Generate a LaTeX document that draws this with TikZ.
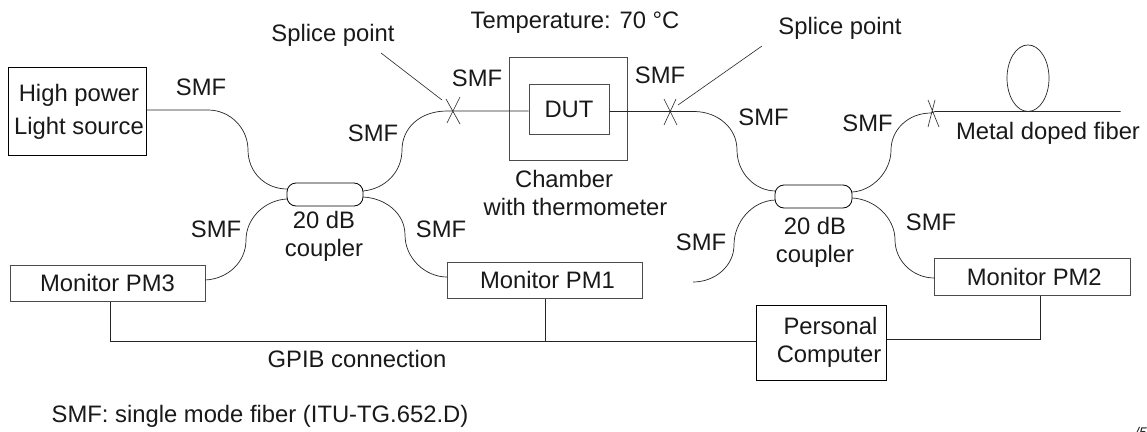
\documentclass[tikz,border=0pt]{standalone}
\usepackage{fontspec}
\setmainfont{Liberation Sans}
\usetikzlibrary{calc,shapes.geometric}
\tikzset{
  x=1pt,y=-1pt,
  txt/.style={inner sep=0pt,font=\fontsize{23.8}{28}\selectfont,align=center,text=black!90,text height=17pt,text depth=0pt},
  boxa/.style={draw=black!70,line width=1pt,inner sep=0pt,font=\fontsize{23.8}{28}\selectfont,align=center,text=black!90},
  boxb/.style={draw=black,line width=.8pt,inner sep=0pt,font=\fontsize{23.8}{28}\selectfont,align=center,text=black!90},
  fiber/.style={draw=black!85,line width=.7pt},
  bus/.style={draw=black!85,line width=.9pt},
  thin mark/.style={draw=black!85,line width=.6pt},
}
\begin{document}
\begin{tikzpicture}
\clip (0,0) rectangle (1147,431);
\fill[white] (0,0) rectangle (1147,431);
% boxes
\node[boxb,minimum width=137.5pt,minimum height=88pt] (src) at (77.5,111.5) {\hspace*{3pt}High power\\[5pt]\hspace*{3pt}Light source};
\node[boxa,minimum width=195pt,minimum height=36pt] (pm3) at (107.5,283) {Monitor PM3};
\node[boxa,minimum width=195pt,minimum height=36pt] (pm1) at (544.5,280) {\hspace*{6pt}Monitor PM1};
\node[boxa,minimum width=195.5pt,minimum height=37pt] (pm2) at (1032.25,276.5) {\hspace*{4pt}Monitor PM2};
\node[boxb,minimum width=130pt,minimum height=75pt] (pc) at (821.5,342.5) {\hspace*{18pt}Personal\\\hspace*{15pt}Computer};
\node[boxa,minimum width=118pt,minimum height=103pt] (chamber) at (568,108.5) {};
\node[boxa,minimum width=80pt,minimum height=50pt] (dut) at (569,109) {DUT};
\node[boxb,rounded corners=9pt,minimum width=76pt,minimum height=23pt] (c1) at (325,194.5) {};
\node[boxb,rounded corners=9pt,minimum width=77pt,minimum height=23pt] (c2) at (813.5,196.5) {};
\node[draw=black!85,line width=.7pt,ellipse,minimum width=42pt,minimum height=66.5pt,inner sep=0pt] (loop) at (1028,78.2) {};
% free ends and joints
\coordinate (s1) at (453,111);
\coordinate (s2) at (670,111.5);
\coordinate (s3) at (935,111.5);
\coordinate (fend) at (1120.5,111.5);
\coordinate (tail) at (693,282);
\coordinate (l1) at (381,53);
\coordinate (l1e) at (442,100);
\coordinate (l2) at (762,46);
\coordinate (l2e) at (678,105);
% fibres
\draw[fiber] (src.east |- 0,110) -- (208,110) .. controls (230,110) and (248,128) .. (248,150) .. controls (248,172) and (265,189) .. (287,189);
\draw[fiber] (363,191) .. controls (385,189) and (402,172) .. (402,150) .. controls (402,128) and (420,111) .. (447,111) -- (dut.west |- s1);
\draw[fiber] (287,199) .. controls (265,200) and (246,218) .. (246,240) .. controls (246,262) and (228,279) .. (205,280);
\draw[fiber] (363,197) .. controls (385,198) and (405,213) .. (405,235) .. controls (405,258) and (425,277) .. (447,277);
\draw[fiber] (dut.east |- s2) -- (695,111.5) .. controls (718,112) and (737,128) .. (737,150) .. controls (737,172) and (754,191) .. (776,191);
\draw[fiber] (852,192) .. controls (872,191) and (891,172) .. (891,150) .. controls (891,130) and (908,113) .. (931,113) -- (s3) -- (fend);
\draw[fiber] (775,200) .. controls (752,201) and (734,222) .. (734,245) .. controls (734,266) and (715,282) .. (tail);
\draw[fiber] (852,198) .. controls (875,199) and (895,218) .. (895,240) .. controls (895,260) and (912,278) .. (934.5,278);
% splice marks
\draw[thin mark] (447,123) -- (460,97) (446,99) -- (460,124);
\draw[thin mark] (664,125) -- (676,99) (664,99) -- (677,125);
\draw[thin mark] (928,127) -- (935,100) (928,100) -- (939,127);
\draw[thin mark] (l1) -- (l1e);
\draw[thin mark] (l2) -- (l2e);
% GPIB
\draw[bus] (pm3.south -| 110,0) -- (110,341) -- (pc.west |- 0,341);
\draw[bus] (545,341) -- (pm1.south -| 545,0);
\draw[bus] (pc.east |- 0,339.5) -- (1040,339.5) -- (pm2.south -| 1040,0);
% labels
\node[txt] (t1) at (333,33) {Splice point};
\node[txt] (t2) at (575,20) {Temperature: 70 °C};
\node[txt] (t3) at (840,26) {Splice point};
\node[txt] (m1) at (201,87) {SMF};
\node[txt] (m2) at (477,78) {SMF};
\node[txt] (m3) at (373,133) {SMF};
\node[txt] (m4) at (216,229) {SMF};
\node[txt] (m5) at (441,229) {SMF};
\node[txt] (m6) at (660,75) {SMF};
\node[txt] (m7) at (763.5,117) {SMF};
\node[txt] (m8) at (867.5,123) {SMF};
\node[txt] (m9) at (931,222) {SMF};
\node[txt] (m10) at (701,242) {SMF};
\node[txt] (k1) at (324,248) {20 dB\\coupler};
\node[txt] (k2) at (815,254) {20 dB\\coupler};
\node[txt] (ch) at (575.5,207) {\hspace*{-23pt}Chamber\\with thermometer};
\node[txt] (mdf) at (1048,131) {Metal doped fiber};
\node[txt] (gpib) at (357,359) {GPIB connection};
\node[txt] (note) at (260,414) {SMF: single mode fiber (ITU-TG.652.D)};
\node[txt,anchor=north east,font=\fontsize{14}{14}\selectfont\itshape,text height=10pt] (pg) at (1147,427) {/5};
\end{tikzpicture}
\end{document}
